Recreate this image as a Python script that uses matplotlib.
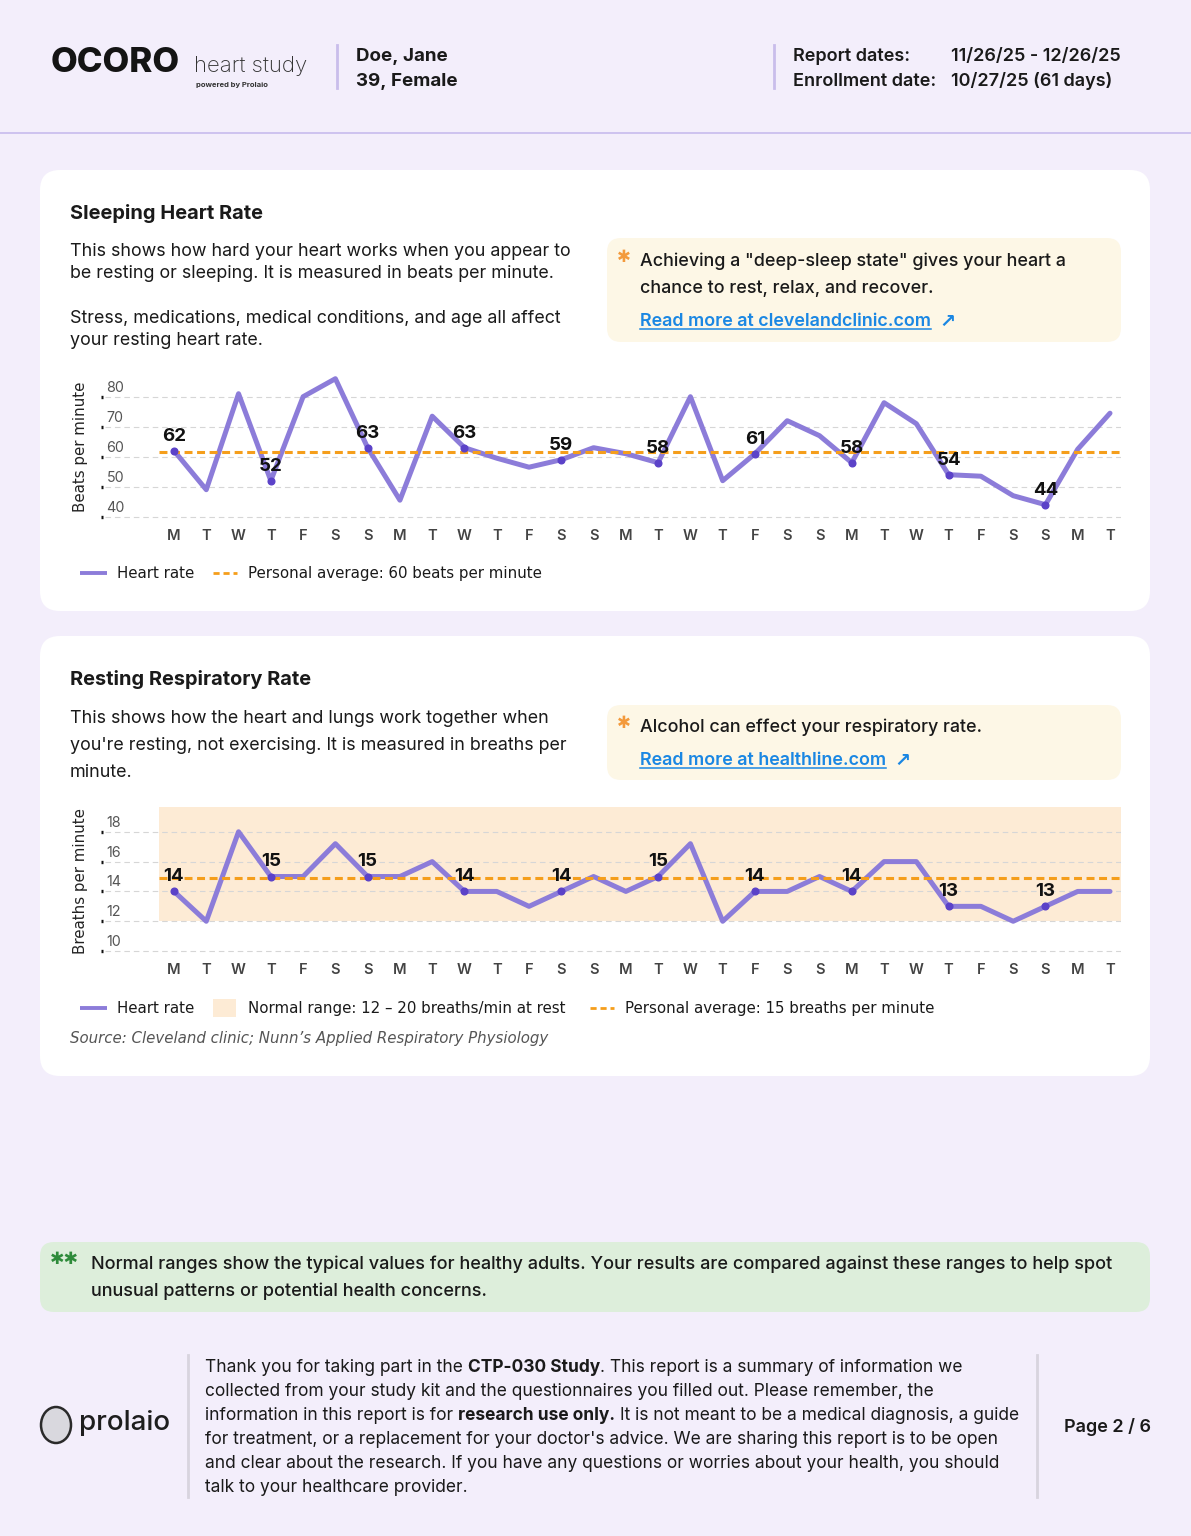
import matplotlib
matplotlib.use('Agg')
import matplotlib.pyplot as plt
from matplotlib.patches import FancyBboxPatch, Ellipse, Rectangle
import numpy as np

plt.rcParams['font.family'] = ['Inter', 'DejaVu Sans']

# ---------------- data ----------------
days = ['M', 'T', 'W', 'T', 'F', 'S', 'S'] * 4 + ['M', 'T']
heart_rate = [62, 49, 81, 52, 80, 86, 63, 45.5, 73.5, 63, 59.5, 56.5, 59, 63, 61,
              58, 80, 52, 61, 72, 67, 58, 78, 71, 54, 53.5, 47, 44, 62.5, 74.5]
heart_avg = 61.7
heart_ticks = [40, 50, 60, 70, 80]
resp_rate = [14, 12, 18, 15, 15, 17.2, 15, 15, 16, 14, 14, 13, 14, 15, 14,
             15, 17.2, 12, 14, 14, 15, 14, 16, 16, 13, 13, 12, 13, 14, 14]
resp_avg = 14.9
resp_ticks = [10, 12, 14, 16, 18]
normal_range = (12, 20)
label_idx = list(range(0, 30, 3))

# ---------------- styling ----------------
W, H = 1191, 1536
BG = '#F3EEFB'
PURPLE = '#8C7CD9'
DOT = '#5B42C8'
ORANGE = '#F59E1B'
SHADE = '#FDEBD5'
CREAM = '#FDF7E6'
BLUE = '#1A87E3'
TXT = '#1A1A1A'
STEP = (1110 - 174) / 29.0
X0PX = 174
BODY = 12.9
DY = 1.5

fig = plt.figure(figsize=(W / 100, H / 100), dpi=100)
fig.patch.set_facecolor(BG)
page = fig.add_axes([0, 0, 1, 1])
page.set_xlim(0, W)
page.set_ylim(H, 0)
page.axis('off')
R = fig.canvas.get_renderer()


def T(x, y, s, size=BODY, weight='normal', color=TXT, **kw):
    return page.text(x, y + DY, s, fontsize=size, fontweight=weight, color=color,
                     va=kw.pop('va', 'center'), ha=kw.pop('ha', 'left'), **kw)


def tw(s, **kw):
    t = page.text(0, 0, s, **kw)
    w = t.get_window_extent(R).width
    t.remove()
    return w


def rich(x, y, segs, size=12.5, color=TXT):
    sp = tw('a a', fontsize=size) - tw('aa', fontsize=size)
    cx = x
    for s, wgt, space_before in segs:
        if space_before:
            cx += sp
        T(cx, y, s, size=size, weight=wgt, color=color)
        cx += tw(s, fontsize=size, fontweight=wgt)


def rbox(x0, y0, x1, y1, color, r=18):
    page.add_patch(FancyBboxPatch((x0, y0), x1 - x0, y1 - y0,
                                  boxstyle=f'round,pad=0,rounding_size={r}',
                                  fc=color, ec='none', zorder=0))


def link(x, y, s, size=BODY):
    T(x, y, s, size=size, weight='semibold', color=BLUE)
    w = tw(s, fontsize=size, fontweight='semibold')
    page.plot([x, x + w], [y + 9, y + 9], color=BLUE, lw=1.1)
    T(x + w + 8, y, '↗', size=size + 1, weight='bold', color=BLUE,
      family=['DejaVu Sans'])


# ---------------- header ----------------
page.plot([0, W], [133, 133], color='#CBBFEE', lw=1.3)
T(51, 61, 'OCORO', size=25, weight='heavy', color='#141414')
T(194, 65, 'heart study', size=16, weight='light', color='#333333')
T(196, 83, 'powered by Prolaio', size=5.5, weight='bold', color='#333333')
page.plot([337, 337], [45, 88], color='#C9BDEB', lw=2)
T(356, 55, 'Doe, Jane', size=13.5, weight='bold')
T(356, 80, '39, Female', size=13.5, weight='bold')
page.plot([774, 774], [45, 88], color='#C9BDEB', lw=2)
T(793, 55, 'Report dates:', size=13, weight='semibold')
T(793, 80, 'Enrollment date:', size=13, weight='semibold')
T(951, 55, '11/26/25 - 12/26/25', size=13, weight='semibold')
T(951, 80, '10/27/25 (61 days)', size=13, weight='semibold')

# ---------------- cards ----------------
rbox(40, 170, 1150, 611, 'white', 20)
rbox(40, 636, 1150, 1076, 'white', 20)

T(70, 212, 'Sleeping Heart Rate', size=14.4, weight='bold')
for yy, s in [(250, 'This shows how hard your heart works when you appear to'),
              (272, 'be resting or sleeping. It is measured in beats per minute.'),
              (317, 'Stress, medications, medical conditions, and age all affect'),
              (339, 'your resting heart rate.')]:
    T(70, yy, s)
rbox(607, 238, 1121, 342, CREAM, 14)
T(617, 256, '✱', size=12, color='#F39A3C', family=['DejaVu Sans'])
T(640, 260, 'Achieving a "deep-sleep state" gives your heart a', weight='medium')
T(640, 287, 'chance to rest, relax, and recover.', weight='medium')
link(640, 320, 'Read more at clevelandclinic.com')

T(70, 678, 'Resting Respiratory Rate', size=14.4, weight='bold')
for yy, s in [(717, 'This shows how the heart and lungs work together when'),
              (744, "you're resting, not exercising. It is measured in breaths per"),
              (771, 'minute.')]:
    T(70, yy, s)
rbox(607, 705, 1121, 780, CREAM, 14)
T(617, 722, '✱', size=12, color='#F39A3C', family=['DejaVu Sans'])
T(640, 726, 'Alcohol can effect your respiratory rate.', weight='medium')
link(640, 759, 'Read more at healthline.com')


# ---------------- charts ----------------
def chart(top, bottom, ylim, ticks, values, avg, ylabel, shade=None):
    left, right = 100, 1121
    ax = fig.add_axes([left / W, 1 - bottom / H, (right - left) / W, (bottom - top) / H])
    ax.set_facecolor('none')
    for s in ax.spines.values():
        s.set_visible(False)
    xlo, xhi = (left - X0PX) / STEP, (right - X0PX) / STEP
    ax.set_xlim(xlo, xhi)
    ax.set_ylim(*ylim)
    xs = np.arange(len(values))
    ax.set_xticks(xs)
    ax.set_xticklabels(days, fontsize=10.5, fontweight='semibold', color='#444444')
    ax.tick_params(axis='x', length=0, pad=3.2)
    ax.set_yticks([])
    xa = (159 - X0PX) / STEP
    gx = (105 - X0PX) / STEP
    ppu = (bottom - top) / (ylim[1] - ylim[0])
    if shade is not None:
        ax.fill_between([xa, xhi], shade[0], shade[1], color=SHADE, lw=0, zorder=0)
    for t in ticks:
        ax.plot([gx, xhi], [t, t], color='#D6D6D6', lw=0.8, dashes=(5, 3.5), zorder=1)
        ax.plot([xlo + 0.02, xlo + 0.1], [t, t], color='#111111', lw=2.4,
                solid_capstyle='butt', clip_on=False, zorder=2)
        ax.text(xlo + 0.2, t + 9 / ppu, f'{t}', fontsize=10.3, color='#555555',
                va='center', ha='left')
    ax.plot([xa, xhi], [avg, avg], color=ORANGE, lw=2.2, dashes=(2.6, 1.5), zorder=4)
    ax.plot(xs, values, color=PURPLE, lw=3.6, solid_joinstyle='round',
            solid_capstyle='round', zorder=3)
    lx = [xs[i] for i in label_idx]
    ly = [values[i] for i in label_idx]
    ax.plot(lx, ly, 'o', color=DOT, ms=4.8, zorder=5)
    for x, v in zip(lx, ly):
        ax.annotate(f'{round(v)}', (x, v), xytext=(0, 10.5), textcoords='offset points',
                    ha='center', va='center', fontsize=13.5, fontweight='bold',
                    color='#111111', zorder=6)
    T(80, (top + bottom) / 2 - 3, ylabel, size=10.8, color='#222222', rotation=90,
      ha='center', family=['DejaVu Sans'])
    return ax


chart(372.7, 524.2, (37.5, 88), heart_ticks, heart_rate, heart_avg, 'Beats per minute')
chart(807, 959, (9.47, 19.66), resp_ticks, resp_rate, resp_avg, 'Breaths per minute',
      shade=normal_range)

# ---------------- legends ----------------
LF = ['DejaVu Sans']
LS = 10.8
page.plot([80, 107], [573, 573], color=PURPLE, lw=2.8, solid_capstyle='butt')
T(117, 572, 'Heart rate', size=LS, family=LF)
page.plot([213, 237], [573, 573], color=ORANGE, lw=2, dashes=(2.2, 1.4))
T(248, 572, 'Personal average: 60 beats per minute', size=LS, family=LF)

page.plot([80, 107], [1008, 1008], color=PURPLE, lw=2.8, solid_capstyle='butt')
T(117, 1007, 'Heart rate', size=LS, family=LF)
page.add_patch(Rectangle((213, 999), 23, 18, fc=SHADE, ec='none'))
T(248, 1007, 'Normal range: 12 – 20 breaths/min at rest', size=LS, family=LF)
page.plot([590, 614], [1008, 1008], color=ORANGE, lw=2, dashes=(2.2, 1.4))
T(625, 1007, 'Personal average: 15 breaths per minute', size=LS, family=LF)
T(70, 1037, 'Source: Cleveland clinic; Nunn’s Applied Respiratory Physiology', size=10.8,
  style='italic', color='#555555', family=LF)

# ---------------- green note ----------------
rbox(40, 1242, 1150, 1312, '#DDEEDB', 14)
T(50, 1258, '✱✱', size=12.5, color='#2E8B3A', family=['DejaVu Sans'])
T(91, 1263, 'Normal ranges show the typical values for healthy adults. Your results are '
  'compared against these ranges to help spot', size=13.0, weight='medium')
T(91, 1290, 'unusual patterns or potential health concerns.', size=13.0, weight='medium')

# ---------------- footer ----------------
page.add_patch(Ellipse((56, 1425), 30, 36, fc='#D9D8DE', ec='#2A2A2A', lw=1.8))
T(79, 1422, 'prolaio', size=20, weight='medium', color='#1E1E1E')
page.plot([188, 188], [1355, 1497], color='#D8D4DE', lw=2)
page.plot([1037, 1037], [1355, 1497], color='#D8D4DE', lw=2)
FS = 12.5
fy = [1366, 1390, 1414, 1438, 1462, 1486]
rich(205, fy[0], [('Thank you for taking part in the', 'normal', False),
                  ('CTP-030 Study', 'bold', True),
                  ('. This report is a summary of information we', 'normal', False)], size=FS)
T(205, fy[1], 'collected from your study kit and the questionnaires you filled out. Please remember, the', size=FS)
rich(205, fy[2], [('information in this report is for', 'normal', False),
                  ('research use only.', 'bold', True),
                  ('It is not meant to be a medical diagnosis, a guide', 'normal', True)], size=FS)
T(205, fy[3], "for treatment, or a replacement for your doctor's advice. We are sharing this report is to be open", size=FS)
T(205, fy[4], 'and clear about the research. If you have any questions or worries about your health, you should', size=FS)
T(205, fy[5], 'talk to your healthcare provider.', size=FS)
T(1064, 1426, 'Page 2 / 6', size=13, weight='semibold')

fig.savefig('out.png', dpi=100, facecolor=BG)
